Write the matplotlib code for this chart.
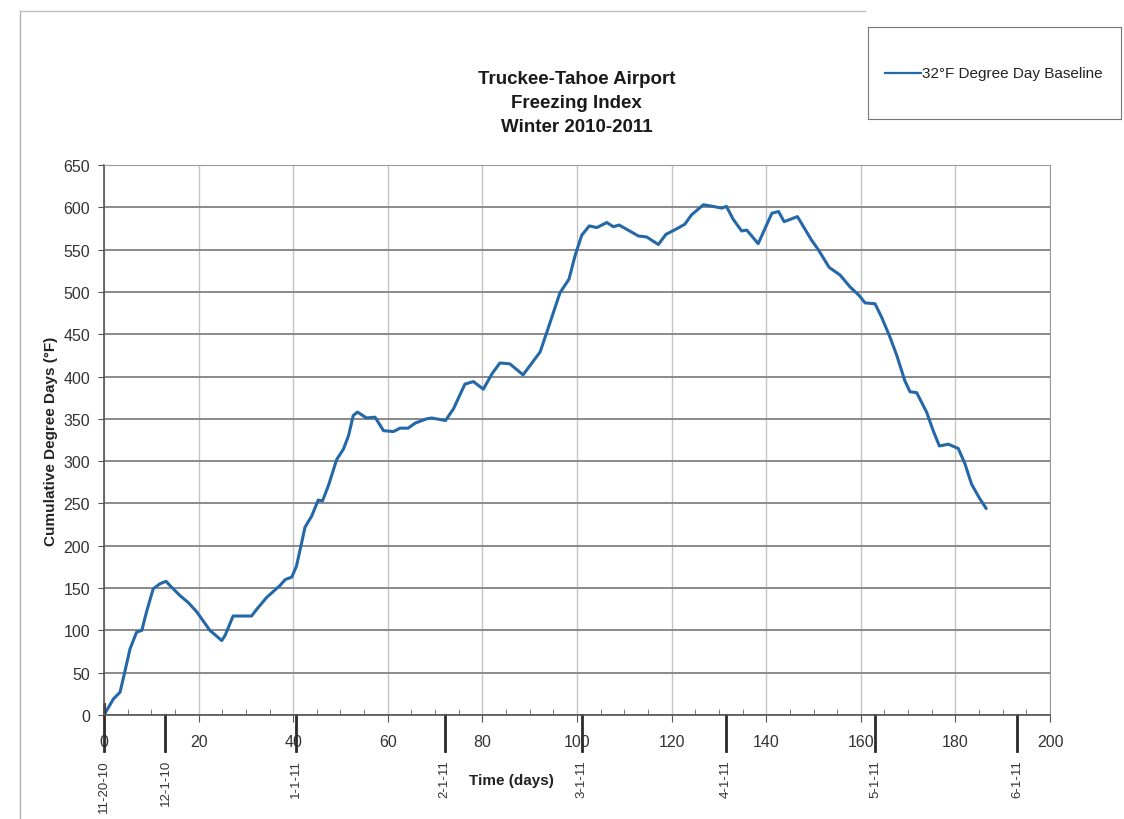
import matplotlib.pyplot as plt
import matplotlib.lines as mlines
from matplotlib.ticker import MultipleLocator

# cumulative degree days
days = [0, 2, 3.4, 4.4, 5.5, 6.9, 8, 9, 10.4, 11.8, 13.1, 14.3, 16.1, 17.8, 19.6,
        22.4, 24.9, 25.6, 27.3, 29.5, 31.2, 32.3, 34.4, 37.2, 38.3, 39.7, 40.7,
        41.8, 42.5, 43.9, 45.3, 46.2, 47.5, 49.2, 50.6, 51.7, 52.7, 53.6, 55.5,
        57.3, 59.1, 61.2, 62.6, 64.3, 65.8, 68.2, 69.3, 72.2, 73.9, 76.3, 78.1,
        80.2, 82, 83.7, 85.8, 88.6, 92.2, 93.6, 96.4, 98.3, 99.6, 101, 102.6,
        104.2, 106.3, 107.7, 108.9, 110.5, 113, 114.7, 117.2, 118.8, 120.9,
        122.8, 124.2, 126.7, 128.8, 130.6, 131.6, 133, 134.8, 135.9, 138.3,
        141.2, 142.6, 143.8, 146.6, 149.6, 151, 153.3, 155.6, 157.7, 159.6,
        160.9, 163, 164.4, 166.2, 167.6, 169.3, 170.4, 171.8, 173.9, 175.3,
        176.6, 178.5, 180.6, 182, 183.4, 185, 186.5]
degree_days = [0, 19, 27, 51, 78, 98, 100, 122, 149, 155, 158, 151, 141, 133, 122,
               100, 88, 94, 117, 117, 117, 125, 139, 153, 160, 163, 176,
               204, 222, 235, 254, 253, 272, 302, 314, 330, 354, 358, 351,
               352, 336, 335, 339, 339, 345, 350, 351, 348, 362, 391, 394,
               385, 403, 416, 415, 402, 429, 452, 499, 515, 543, 567, 578,
               576, 582, 577, 579, 574, 566, 565, 556, 568, 574,
               580, 591, 603, 601, 599, 601, 586, 572, 573, 557,
               593, 595, 583, 589, 561, 550, 529, 520, 506, 496,
               487, 486, 470, 446, 425, 395, 382, 381, 358, 336,
               318, 320, 315, 297, 273, 257, 244]

# hand-drawn calendar markers under the axis
date_days = [0, 13, 40.5, 72, 101, 131.5, 163, 193]
date_labels = ['11-20-10', '12-1-10', '1-1-11', '2-1-11', '3-1-11',
               '4-1-11', '5-1-11', '6-1-11']

plt.rcParams['font.family'] = ['Liberation Sans', 'DejaVu Sans']

fig = plt.figure(figsize=(11.24, 8.2), dpi=100)
ax = fig.add_axes([0.0925, 0.1268, 0.8417, 0.6708])

ax.plot(days, degree_days, color='#2468a8', lw=2.2, solid_joinstyle='round',
        solid_capstyle='round', label='32°F Degree Day Baseline')

ax.set_xlim(0, 200)
ax.set_ylim(0, 650)
ax.xaxis.set_major_locator(MultipleLocator(20))
ax.xaxis.set_minor_locator(MultipleLocator(5))
ax.yaxis.set_major_locator(MultipleLocator(50))

ax.grid(axis='y', color='#8a8a8a', lw=1.4)
ax.grid(axis='x', color='#c4c4c4', lw=1.0)
ax.set_axisbelow(True)

for s in ['top', 'right']:
    ax.spines[s].set_color('#9a9a9a')
for s in ['left', 'bottom']:
    ax.spines[s].set_color('#555555')
    ax.spines[s].set_linewidth(1.2)

ax.tick_params(axis='x', which='major', direction='out', length=5,
               colors='#555555', labelcolor='#333333', labelsize=11.5, pad=9)
ax.tick_params(axis='x', which='minor', direction='in', length=4, colors='#666666')
ax.tick_params(axis='y', direction='out', length=4, colors='#555555',
               labelcolor='#333333', labelsize=11.5, pad=6)

ax.set_ylabel('Cumulative Degree Days (°F)', fontsize=11, fontweight='bold',
              color='#222222', labelpad=4)

trans = ax.get_xaxis_transform()
for d, lab in zip(date_days, date_labels):
    ax.plot([d, d], [0.02 if d == 0 else 0.0, -0.066], transform=trans,
            color='#2a2a2a', lw=2.0, clip_on=False)
    ax.text(d, -0.08, lab, transform=trans, rotation=90, ha='center', va='top',
            fontsize=9.5, color='#333333')

fig.text(0.455, 0.048, 'Time (days)', fontsize=11, fontweight='bold',
         color='#222222', ha='center', va='center')

fig.text(0.513, 0.874, 'Truckee-Tahoe Airport\nFreezing Index\nWinter 2010-2011',
         ha='center', va='center', fontsize=13.5, fontweight='bold',
         color='#1a1a1a', linespacing=1.55)

# legend box in the upper right corner
lax = fig.add_axes([0.772, 0.854, 0.225, 0.112])
lax.set_xticks([])
lax.set_yticks([])
for s in lax.spines.values():
    s.set_color('#777777')
lax.set_xlim(0, 1)
lax.set_ylim(0, 1)
lax.add_line(mlines.Line2D([0.07, 0.21], [0.5, 0.5], color='#2468a8', lw=1.6))
lax.text(0.213, 0.5, '32°F Degree Day Baseline', va='center', ha='left',
         fontsize=11, color='#222222')

# scanned page edges
fig.add_artist(mlines.Line2D([0.018, 0.018], [0.0, 0.985], color='#b0b0b0', lw=1.0))
fig.add_artist(mlines.Line2D([0.018, 0.77], [0.985, 0.985], color='#c0c0c0', lw=1.0))

fig.savefig('out.png', dpi=100, facecolor='white')
